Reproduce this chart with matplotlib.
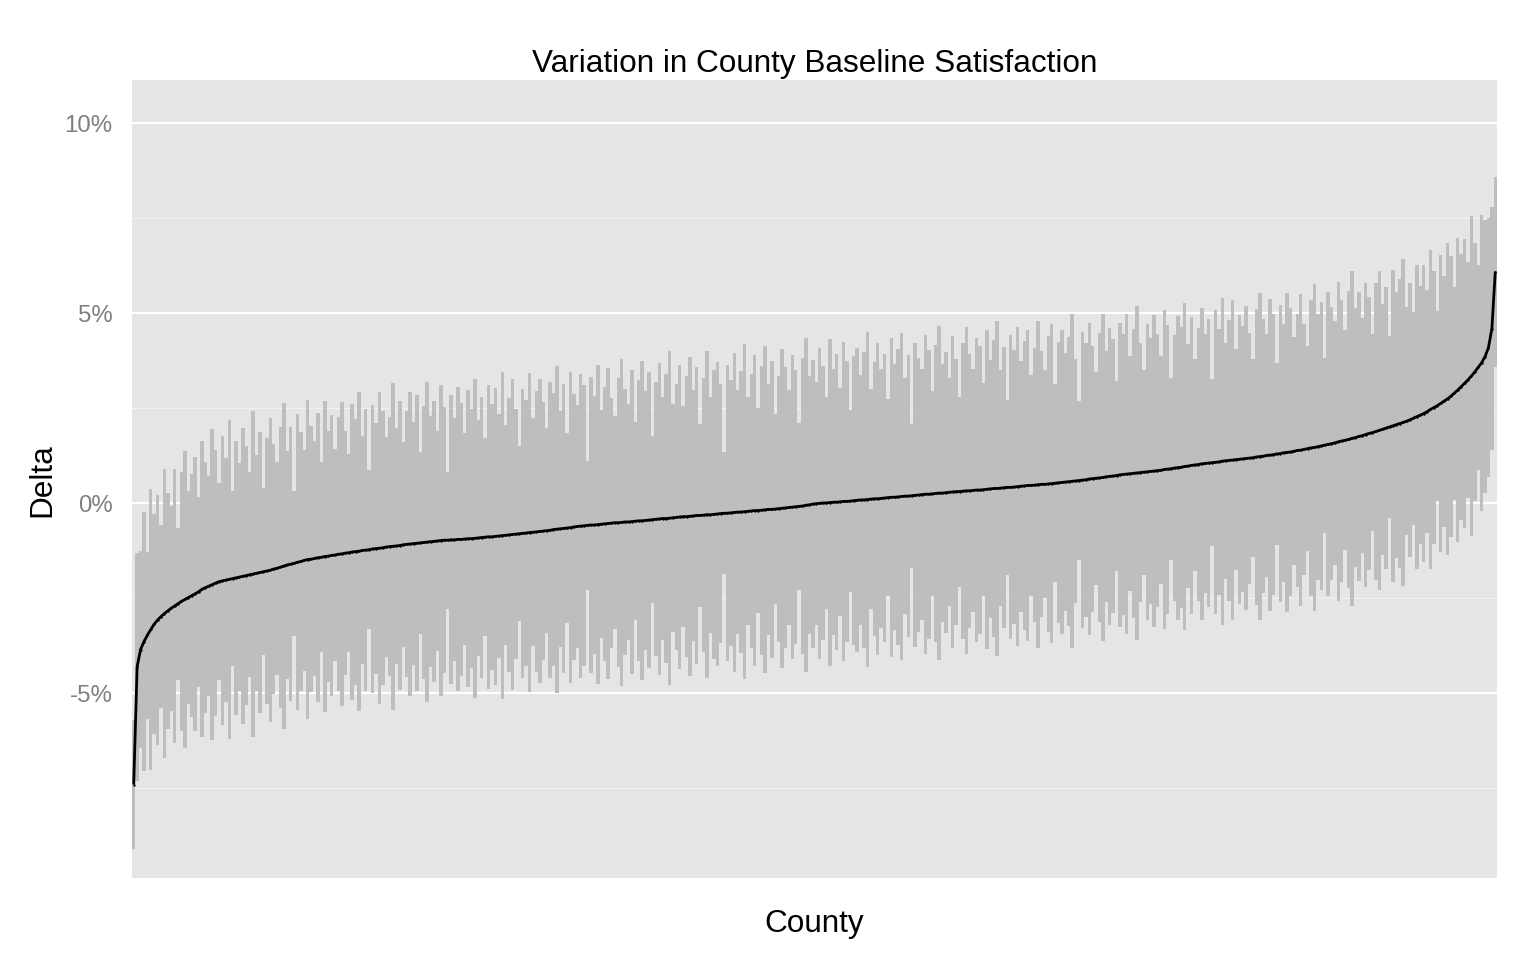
import matplotlib
matplotlib.use("Agg")
import matplotlib.pyplot as plt
import numpy as np
from matplotlib.ticker import MultipleLocator

# ---- data: counties sorted by baseline delta (percent) ----
delta = [
    -7.40, -4.30, -3.85, -3.64, -3.47, -3.32, -3.18, -3.07, -2.98, -2.90,
    -2.83, -2.76, -2.70, -2.64, -2.58, -2.53, -2.48, -2.43, -2.38, -2.33,
    -2.26, -2.22, -2.18, -2.14, -2.10, -2.06, -2.04, -2.02, -2.00, -1.98,
    -1.96, -1.94, -1.92, -1.90, -1.88, -1.86, -1.84, -1.82, -1.80, -1.78,
    -1.76, -1.73, -1.71, -1.68, -1.65, -1.62, -1.60, -1.58, -1.55, -1.53,
    -1.50, -1.48, -1.47, -1.45, -1.43, -1.42, -1.40, -1.39, -1.37, -1.36,
    -1.34, -1.33, -1.31, -1.30, -1.28, -1.27, -1.26, -1.24, -1.23, -1.22,
    -1.20, -1.19, -1.18, -1.17, -1.15, -1.14, -1.13, -1.12, -1.11, -1.09,
    -1.08, -1.07, -1.06, -1.05, -1.04, -1.03, -1.02, -1.01, -1.00, -0.99,
    -0.98, -0.97, -0.97, -0.96, -0.96, -0.95, -0.95, -0.94, -0.93, -0.93,
    -0.92, -0.91, -0.90, -0.89, -0.88, -0.88, -0.87, -0.86, -0.85, -0.84,
    -0.83, -0.82, -0.81, -0.80, -0.79, -0.78, -0.77, -0.76, -0.75, -0.74,
    -0.73, -0.72, -0.71, -0.69, -0.68, -0.67, -0.66, -0.65, -0.64, -0.62,
    -0.61, -0.60, -0.59, -0.58, -0.57, -0.57, -0.56, -0.55, -0.54, -0.53,
    -0.52, -0.51, -0.51, -0.50, -0.49, -0.49, -0.48, -0.47, -0.46, -0.46,
    -0.45, -0.44, -0.43, -0.42, -0.41, -0.40, -0.40, -0.39, -0.38, -0.37,
    -0.36, -0.35, -0.35, -0.34, -0.33, -0.32, -0.32, -0.31, -0.30, -0.30,
    -0.29, -0.28, -0.27, -0.26, -0.26, -0.25, -0.24, -0.23, -0.23, -0.22,
    -0.21, -0.20, -0.19, -0.19, -0.18, -0.17, -0.16, -0.16, -0.15, -0.14,
    -0.13, -0.12, -0.11, -0.10, -0.09, -0.08, -0.07, -0.05, -0.04, -0.02,
    -0.01, 0.00, 0.01, 0.01, 0.02, 0.03, 0.03, 0.04, 0.05, 0.05,
    0.06, 0.07, 0.08, 0.09, 0.09, 0.10, 0.11, 0.12, 0.12, 0.13,
    0.14, 0.15, 0.16, 0.16, 0.17, 0.18, 0.19, 0.19, 0.20, 0.21,
    0.22, 0.23, 0.24, 0.24, 0.25, 0.26, 0.27, 0.27, 0.28, 0.29,
    0.30, 0.31, 0.31, 0.32, 0.33, 0.33, 0.34, 0.35, 0.35, 0.36,
    0.37, 0.38, 0.39, 0.39, 0.40, 0.41, 0.42, 0.42, 0.43, 0.44,
    0.45, 0.46, 0.47, 0.47, 0.48, 0.49, 0.50, 0.50, 0.51, 0.52,
    0.53, 0.54, 0.55, 0.56, 0.57, 0.58, 0.59, 0.60, 0.61, 0.62,
    0.64, 0.65, 0.66, 0.67, 0.68, 0.70, 0.71, 0.72, 0.73, 0.75,
    0.76, 0.77, 0.78, 0.79, 0.80, 0.81, 0.82, 0.83, 0.84, 0.85,
    0.86, 0.87, 0.89, 0.90, 0.91, 0.93, 0.94, 0.95, 0.97, 0.98,
    1.00, 1.01, 1.02, 1.04, 1.05, 1.06, 1.07, 1.08, 1.09, 1.11,
    1.12, 1.13, 1.14, 1.15, 1.16, 1.17, 1.18, 1.19, 1.20, 1.22,
    1.23, 1.24, 1.26, 1.27, 1.28, 1.30, 1.31, 1.33, 1.34, 1.35,
    1.37, 1.39, 1.40, 1.42, 1.44, 1.46, 1.47, 1.49, 1.51, 1.53,
    1.55, 1.57, 1.59, 1.62, 1.64, 1.66, 1.68, 1.71, 1.73, 1.76,
    1.78, 1.81, 1.84, 1.86, 1.89, 1.92, 1.95, 1.98, 2.01, 2.04,
    2.07, 2.10, 2.13, 2.16, 2.20, 2.24, 2.28, 2.32, 2.36, 2.41,
    2.47, 2.52, 2.57, 2.63, 2.69, 2.75, 2.82, 2.90, 2.98, 3.07,
    3.16, 3.25, 3.35, 3.46, 3.58, 3.70, 3.86, 4.10, 4.60, 6.10,
]

# half-width of each county's interval (percent)
margin = [
    1.7, 3.0, 2.6, 3.4, 2.2, 3.7, 2.9, 3.3, 2.4, 3.8, 3.1, 2.7, 3.6, 2.0, 3.4, 3.9, 2.8, 3.2, 3.6, 2.5,
    3.9, 3.3, 2.9, 4.1, 3.5, 2.6, 3.8, 3.2, 4.2, 2.3, 3.6, 3.0, 3.9, 3.4, 2.7, 4.3, 3.1, 3.7, 2.2, 3.5,
    4.0, 3.3, 2.8, 3.7, 4.3, 3.0, 3.6, 1.9, 3.9, 3.4, 2.9, 4.2, 3.5, 3.1, 3.8, 2.5, 4.1, 3.3, 3.7, 2.8,
    3.6, 4.0, 3.2, 2.6, 3.9, 3.5, 4.2, 3.0, 3.7, 2.1, 3.8, 3.3, 4.1, 3.6, 2.9, 3.4, 4.3, 3.1, 3.8, 2.7,
    3.5, 4.0, 3.2, 3.9, 2.4, 3.6, 4.2, 3.3, 3.7, 2.9, 4.1, 3.5, 1.8, 3.8, 3.2, 4.0, 3.6, 2.8, 3.9, 3.4,
    4.2, 3.1, 3.7, 2.6, 4.0, 3.5, 3.9, 3.2, 4.3, 2.9, 3.6, 4.1, 3.3, 2.3, 3.8, 3.5, 4.2, 3.0, 3.7, 4.0,
    3.4, 2.7, 3.9, 3.6, 4.3, 3.1, 3.8, 2.5, 4.1, 3.5, 3.2, 4.0, 3.7, 1.7, 3.9, 3.4, 4.2, 3.0, 3.6, 4.1,
    3.3, 2.8, 3.8, 4.3, 3.5, 3.1, 4.0, 2.6, 3.7, 4.2, 3.4, 3.9, 2.2, 3.6, 4.1, 3.2, 3.8, 4.4, 3.0, 3.5,
    4.0, 2.9, 3.7, 4.2, 3.3, 3.9, 2.4, 3.6, 4.3, 3.1, 3.8, 4.0, 3.4, 1.6, 3.9, 3.5, 4.2, 3.2, 3.7, 4.4,
    3.0, 3.6, 4.1, 2.7, 3.8, 4.3, 3.3, 3.9, 2.5, 3.5, 4.2, 3.7, 3.1, 4.0, 3.6, 2.2, 3.9, 4.4, 3.4, 3.8,
    3.2, 4.1, 3.6, 2.8, 4.3, 3.5, 3.9, 3.0, 4.2, 3.7, 2.4, 3.8, 4.0, 3.3, 3.9, 4.4, 2.9, 3.6, 4.1, 3.4,
    3.8, 2.6, 4.2, 3.5, 3.9, 4.3, 3.1, 3.7, 1.9, 4.0, 3.6, 3.3, 4.2, 3.8, 2.7, 3.9, 4.4, 3.4, 3.7, 3.0,
    4.1, 3.5, 2.5, 3.9, 4.3, 3.6, 3.2, 4.0, 3.8, 2.8, 4.2, 3.4, 3.9, 4.4, 3.1, 3.7, 2.3, 4.0, 3.6, 4.2,
    3.3, 3.8, 4.1, 2.9, 3.6, 4.3, 3.5, 3.0, 3.9, 4.2, 2.6, 3.7, 4.0, 3.4, 3.8, 4.4, 3.2, 2.1, 3.9, 3.6,
    4.1, 3.5, 2.8, 3.8, 4.3, 3.3, 3.9, 3.6, 2.5, 4.0, 3.7, 4.2, 3.1, 3.8, 4.4, 3.4, 2.7, 3.9, 3.5, 4.1,
    3.6, 3.0, 4.2, 3.8, 2.4, 3.5, 4.0, 3.7, 4.3, 3.2, 3.9, 2.8, 3.6, 4.1, 3.4, 3.8, 2.2, 4.0, 3.5, 4.3,
    3.1, 3.7, 4.2, 2.9, 3.8, 3.5, 4.0, 3.3, 2.6, 3.9, 4.3, 3.6, 3.2, 4.1, 3.7, 2.4, 3.9, 3.4, 4.2, 3.8,
    3.0, 3.6, 4.1, 3.3, 2.7, 3.9, 4.3, 3.5, 3.8, 2.3, 4.0, 3.6, 3.2, 4.2, 3.7, 2.9, 3.9, 4.4, 3.4, 3.8,
    3.1, 4.0, 3.6, 2.6, 3.9, 4.2, 3.3, 3.7, 2.4, 4.1, 3.5, 3.8, 4.3, 3.0, 3.6, 2.8, 4.0, 3.4, 3.9, 3.2,
    4.2, 3.6, 2.5, 3.9, 3.3, 4.1, 3.7, 2.8, 4.0, 3.5, 3.8, 3.1, 4.2, 3.4, 2.7, 3.9, 3.6, 3.4, 3.2, 2.5,
]

yticks = [-5, 0, 5, 10]
ytick_labels = ["-5%", "0%", "5%", "10%"]

# ---- figure ----
W, H, DPI = 1536, 960, 100
plt.rcParams["font.family"] = ["Liberation Sans", "DejaVu Sans"]
fig = plt.figure(figsize=(W / DPI, H / DPI), dpi=DPI)
fig.patch.set_facecolor("white")

left, right, top, bottom = 132, 1497, 80, 878
ax = fig.add_axes([left / W, 1 - bottom / H, (right - left) / W, (bottom - top) / H])
ax.set_facecolor("#E5E5E5")
for s in ax.spines.values():
    s.set_visible(False)

d = np.array(delta)
m = np.array(margin)
x = np.arange(len(d))

ax.bar(x, 2 * m, bottom=d - m, width=1.0, color="#BEBEBE", edgecolor="none",
       linewidth=0, zorder=2)
ax.plot(x, d, color="black", lw=2.0, zorder=3, solid_capstyle="butt")
ax.scatter(x, d, s=3, color="black", zorder=4, linewidths=0)

ax.set_xlim(-0.5, len(d) - 0.5)
ax.set_ylim(-9.86, 11.14)

ax.set_yticks(yticks)
ax.set_yticklabels(ytick_labels)
ax.yaxis.set_minor_locator(MultipleLocator(2.5))
ax.set_xticks([])
ax.grid(which="major", axis="y", color="white", lw=1.6, zorder=1)
ax.grid(which="minor", axis="y", color="#F2F2F2", lw=0.8, zorder=1)
ax.set_axisbelow(True)
ax.tick_params(axis="y", which="both", length=0, pad=14, labelsize=17.3,
               labelcolor="#7F7F7F")

fig.text((left + right) / 2 / W, 1 - 64 / H, "Variation in County Baseline Satisfaction",
         ha="center", va="center", fontsize=22.7, color="black")
fig.text((left + right) / 2 / W, 1 - 924 / H, "County",
         ha="center", va="center", fontsize=22.7, color="black")
fig.text(42 / W, 1 - 480 / H, "Delta", rotation=90,
         ha="center", va="center", fontsize=22.7, color="black")

fig.savefig("out.png", dpi=DPI, facecolor="white")
